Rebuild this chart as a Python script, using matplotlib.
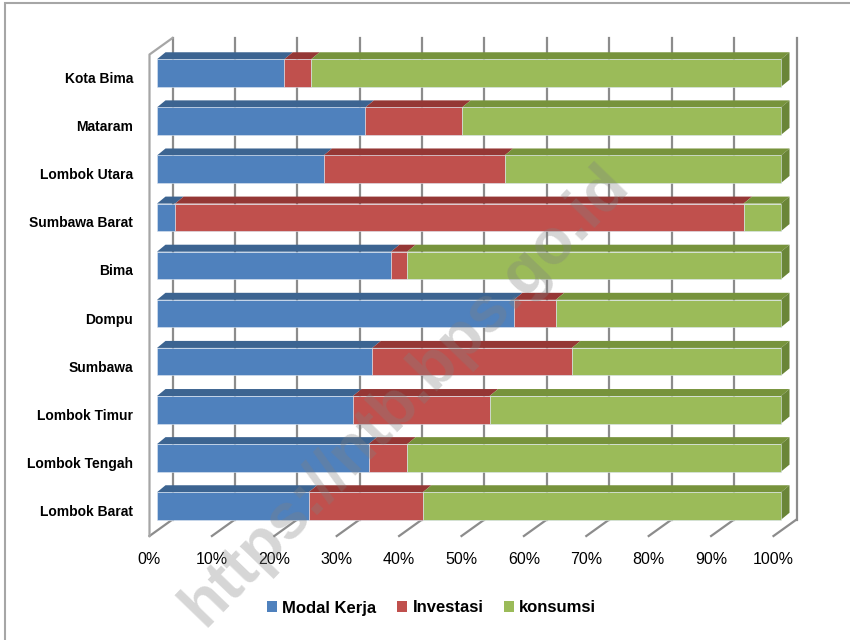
import numpy as np
import matplotlib.pyplot as plt
from matplotlib.patches import Polygon, Patch, Rectangle

# data (percent shares), bottom -> top
regions = ["Lombok Barat", "Lombok Tengah", "Lombok Timur", "Sumbawa", "Dompu",
           "Bima", "Sumbawa Barat", "Lombok Utara", "Mataram", "Kota Bima"]
modal_kerja = [24.3, 33.9, 31.4, 34.5, 57.2, 37.5, 2.9, 26.7, 33.4, 20.4]
investasi = [18.3, 6.2, 21.9, 32.0, 6.7, 2.6, 91.1, 29.0, 15.5, 4.3]
konsumsi = [57.4, 59.9, 46.7, 33.5, 36.1, 59.9, 6.0, 44.3, 51.1, 75.3]
series = ["Modal Kerja", "Investasi", "konsumsi"]
ticks = [0, 10, 20, 30, 40, 50, 60, 70, 80, 90, 100]

front = ["#4F81BD", "#C0504D", "#9BBB59"]
top = ["#3C6491", "#953735", "#77933C"]
side = "#6A8538"
grid_c = "#8C8C8C"

# pixel scale helpers for the oblique (fake 3D) look
PX_X = 6.24    # px per percent
PX_Y = 48.11   # px per category
def dx(px): return px / PX_X
def dy(px): return px / PX_Y

fig = plt.figure(figsize=(8.5, 6.4), dpi=100)
ax = fig.add_axes([140 / 850, 95 / 640, 670 / 850, 515 / 640])
ax.set_xlim(dx(140 - 157), dx(810 - 157))
ax.set_ylim(dy(506 - 545), dy(506 - 30))
ax.axis("off")

y = np.arange(len(regions))
h = dy(27.5)
ox, oy = dx(8.5), dy(7)

# walls and grid
fx, fy = dx(-7.5), dy(-30)      # front floor offset
bx, by = dx(15.5), dy(-13.5)    # back floor offset
wall_top = dy(506 - 38)
for t in ticks:
    ax.plot([t + bx, t + bx], [by, wall_top], color=grid_c, lw=1.6, zorder=1)
    ax.plot([t + fx, t + bx], [fy, by], color=grid_c, lw=1.6, zorder=1)
ax.plot([fx, fx, bx], [fy, wall_top - (by - fy), wall_top], color="#A6A6A6", lw=1.6, zorder=1)

# bars
data = [modal_kerja, investasi, konsumsi]
left = np.zeros(len(regions))
for k, vals in enumerate(data):
    vals = np.array(vals)
    ax.barh(y, vals, left=left, height=h, color=front[k], edgecolor="#DCE6F2",
            linewidth=0.4, zorder=3)
    for i in range(len(regions)):
        a, b = left[i], left[i] + vals[i]
        yt = y[i] + h / 2
        ax.add_patch(Polygon([(a, yt), (b, yt), (b + ox, yt + oy), (a + ox, yt + oy)],
                             closed=True, facecolor=top[k], edgecolor="none", zorder=2.5))
    left += vals
for i in range(len(regions)):
    r = left[i]
    ax.add_patch(Polygon([(r, y[i] - h / 2), (r, y[i] + h / 2), (r + ox, y[i] + h / 2 + oy),
                          (r + ox, y[i] - h / 2 + oy)], closed=True, facecolor=side,
                         edgecolor="none", zorder=2.5))

# labels
for i, name in enumerate(regions):
    ax.text(dx(133 - 157), y[i] - dy(6), name, ha="right", va="center",
            fontsize=10, fontweight="bold", family="Liberation Sans", color="black")
for t in ticks:
    ax.text(t + fx, dy(506 - 559), f"{t}%", ha="center", va="center",
            fontsize=11.5, family="Liberation Sans", color="black")

handles = [Patch(facecolor=c, edgecolor="none") for c in front]
leg = fig.legend(handles, series, loc="center", bbox_to_anchor=(0.508, 0.05), ncol=3,
                 frameon=False, handlelength=0.6, handleheight=0.6, handletextpad=0.3,
                 columnspacing=1.25, prop={"family": "Liberation Sans", "weight": "bold", "size": 12})

# watermark
fig.text(405 / 850, 1 - 395 / 640, "https://ntb.bps.go.id", rotation=46, ha="center",
         va="center", fontsize=46, fontweight="bold", family="Liberation Sans",
         color="#808080", alpha=0.32, zorder=10)

# outer frame
fig.patches.append(Rectangle((5 / 850, -0.1), 1.0, 1.1 - 3 / 640, transform=fig.transFigure,
                             fill=False, edgecolor="#A6A6A6", lw=1.5))

fig.savefig("out.png", dpi=100)
